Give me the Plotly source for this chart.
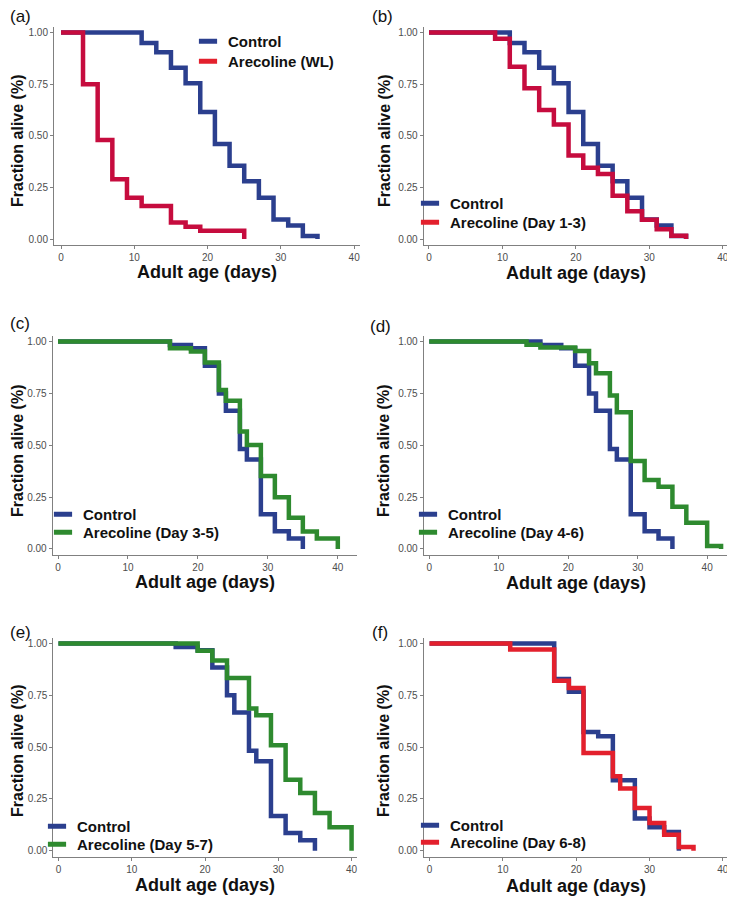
import plotly.graph_objects as go

# ---------------- data (event times in days, survival fraction after each event) ----------------
ctrl_ab_t = [11, 13, 15, 17, 19, 21, 23, 25, 27, 29, 31, 33, 35]
ctrl_ab_s = [0.95, 0.905, 0.83, 0.755, 0.615, 0.46, 0.355, 0.28, 0.20, 0.095, 0.065, 0.015, 0.0]

wl_t = [3, 5, 7, 9, 11, 15, 17, 19, 25]
wl_s = [0.75, 0.48, 0.29, 0.20, 0.16, 0.08, 0.06, 0.04, 0.0]

d13_t = [9, 11, 13, 15, 17, 19, 21, 23, 25, 27, 29, 31, 33, 35]
d13_s = [0.97, 0.835, 0.73, 0.625, 0.555, 0.405, 0.345, 0.315, 0.21, 0.135, 0.093, 0.047, 0.016, 0.0]

ctrl_cde_t = [16, 19, 21, 23, 24, 26, 27, 29, 31, 33, 35]
ctrl_cde_s = [0.984, 0.968, 0.884, 0.75, 0.667, 0.482, 0.432, 0.167, 0.085, 0.05, 0.0]

d35_t = [16, 19, 21, 23, 24, 26, 27, 29, 31, 33, 35, 37, 40]
d35_s = [0.968, 0.952, 0.899, 0.767, 0.715, 0.566, 0.502, 0.352, 0.249, 0.151, 0.084, 0.051, 0.0]

d46_t = [14, 16, 21, 23, 24, 26, 27, 29, 31, 33, 35, 37, 40, 42]
d46_s = [0.985, 0.971, 0.955, 0.896, 0.847, 0.74, 0.659, 0.424, 0.333, 0.30, 0.204, 0.127, 0.014, 0.0]

d57_t = [19, 21, 23, 26, 27, 29, 31, 33, 35, 37, 40]
d57_s = [0.966, 0.918, 0.834, 0.686, 0.654, 0.509, 0.343, 0.279, 0.182, 0.113, 0.0]

ctrl_f_t = [17, 19, 21, 23, 25, 28, 30, 32, 34]
ctrl_f_s = [0.829, 0.767, 0.573, 0.552, 0.34, 0.155, 0.113, 0.09, 0.0]

d68_t = [11, 17, 19, 21, 25, 26, 28, 30, 32, 34, 36]
d68_s = [0.971, 0.821, 0.786, 0.472, 0.359, 0.30, 0.206, 0.134, 0.077, 0.018, 0.0]

panel_labels = ["(a)", "(b)", "(c)", "(d)", "(e)", "(f)"]
x_ticks = [0, 10, 20, 30, 40]
y_ticks = [0, 0.25, 0.5, 0.75, 1.0]
x_title = "Adult age (days)"
y_title = "Fraction alive (%)"

# ---------------- styling ----------------
BLUE = "#2b3f8e"
CRIMSON = "#c60c3e"
RED = "#e3202d"
GREEN = "#2e8a2f"
OFF = 8            # browser body margin
W, H = 727, 893    # figure size so that figure fills the 735x901 window


def px_x(v):
    return (v - OFF) / W


def px_y(v):
    return 1 - (v - OFF) / H


# panel geometry in window pixels
panels = [
    dict(x=(54, 360), y=(27, 245), xr=(-0.96, 40.8), xt=272, yt=(17, 141)),
    dict(x=(423.7, 728.7), y=(27, 245), xr=(-0.72, 40.8), xt=273, yt=(384, 141)),
    dict(x=(52.7, 356.7), y=(336, 555), xr=(-0.76, 42.7), xt=582, yt=(17, 451)),
    dict(x=(423.7, 728.7), y=(336, 555), xr=(-0.8, 43.1), xt=583, yt=(383, 451)),
    dict(x=(53.3, 356.7), y=(638, 856.7), xr=(-0.7, 40.7), xt=885, yt=(17, 751)),
    dict(x=(423.7, 728.7), y=(638, 856.7), xr=(-0.8, 40.8), xt=886, yt=(383, 751)),
]

series = [
    [("Control", ctrl_ab_t, ctrl_ab_s, BLUE, BLUE), ("Arecoline (WL)", wl_t, wl_s, CRIMSON, RED)],
    [("Control", ctrl_ab_t, ctrl_ab_s, BLUE, BLUE), ("Arecoline (Day 1-3)", d13_t, d13_s, CRIMSON, RED)],
    [("Control", ctrl_cde_t, ctrl_cde_s, BLUE, BLUE), ("Arecoline (Day 3-5)", d35_t, d35_s, GREEN, GREEN)],
    [("Control", ctrl_cde_t, ctrl_cde_s, BLUE, BLUE), ("Arecoline (Day 4-6)", d46_t, d46_s, GREEN, GREEN)],
    [("Control", ctrl_cde_t, ctrl_cde_s, BLUE, BLUE), ("Arecoline (Day 5-7)", d57_t, d57_s, GREEN, GREEN)],
    [("Control", ctrl_f_t, ctrl_f_s, BLUE, BLUE), ("Arecoline (Day 6-8)", d68_t, d68_s, RED, RED)],
]

# legend: text start x, row centres (window px)
legend_pos = [(228, (42, 62)), (450, (204, 223)), (83, (515, 533)),
              (448, (515, 533)), (77, (827, 845)), (450, (826, 843))]
label_pos = [(9, 17), (371, 17), (9, 324), (369, 326), (9, 632), (371, 632)]

fig = go.Figure()
layout = dict(
    width=W, height=H,
    margin=dict(l=0, r=0, t=0, b=0),
    paper_bgcolor="white", plot_bgcolor="white",
    font=dict(family="Liberation Sans, Arial, sans-serif", color="#222"),
    showlegend=True,
    annotations=[],
)

leg_idx = 0
for i, p in enumerate(panels):
    k = "" if i == 0 else str(i + 1)
    xa, ya = "x" + k, "y" + k
    for name, t, s, lc, kc in series[i]:
        xs = [0] + list(t)
        ys = [1.0] + list(s)
        fig.add_trace(go.Scatter(
            x=xs, y=ys, mode="lines", line=dict(color=lc, width=4.5, shape="hv"),
            xaxis=xa, yaxis=ya, showlegend=False, hoverinfo="skip",
        ))
    tx, rows = legend_pos[i]
    for j, (name, t, s, lc, kc) in enumerate(series[i]):
        leg_idx += 1
        leg = "legend" if leg_idx == 1 else "legend%d" % leg_idx
        fig.add_trace(go.Scatter(
            x=[None], y=[None], mode="markers", name=name,
            marker=dict(symbol="line-ew", size=13, color=kc, line=dict(color=kc, width=5)),
            xaxis=xa, yaxis=ya, legend=leg, showlegend=True,
        ))
        layout[leg] = dict(
            x=px_x(tx - 40), y=px_y(rows[j] - 17), xanchor="left", yanchor="top",
            bgcolor="rgba(0,0,0,0)", borderwidth=0,
            font=dict(size=15, weight="bold", color="#111"),
            itemwidth=30,
        )
    axis_common = dict(
        showline=True, linecolor="#808080", linewidth=1,
        ticks="outside", ticklen=3, tickwidth=1, tickcolor="#808080",
        showgrid=False, zeroline=False, automargin=False,
        tickfont=dict(size=10, color="#4d4d4d"),
    )
    layout["xaxis" + k] = dict(
        axis_common, domain=[px_x(p["x"][0]), px_x(p["x"][1])], range=list(p["xr"]),
        tickvals=x_ticks, anchor=ya,
    )
    layout["yaxis" + k] = dict(
        axis_common, domain=[px_y(p["y"][1]), px_y(p["y"][0])], range=[-0.029, 1.027],
        tickvals=y_ticks, tickformat=".2f", anchor=xa,
    )
    # axis titles
    layout["annotations"].append(dict(
        text=x_title, x=px_x((p["x"][0] + p["x"][1]) / 2), y=px_y(p["xt"]),
        xref="paper", yref="paper", xanchor="center", yanchor="middle", showarrow=False,
        font=dict(size=18, weight="bold", color="#111"), borderpad=0,
    ))
    layout["annotations"].append(dict(
        text=y_title, x=px_x(p["yt"][0]), y=px_y(p["yt"][1]), textangle=-90,
        xref="paper", yref="paper", xanchor="center", yanchor="middle", showarrow=False,
        font=dict(size=16, weight="bold", color="#111"), borderpad=0,
    ))
    ax, ay = label_pos[i]
    layout["annotations"].append(dict(
        text=panel_labels[i], x=px_x(ax), y=px_y(ay), xref="paper", yref="paper",
        xanchor="left", yanchor="middle", showarrow=False,
        font=dict(size=17, color="#111"), borderpad=0,
    ))

fig.update_layout(**layout)
fig.write_html("out.html")
